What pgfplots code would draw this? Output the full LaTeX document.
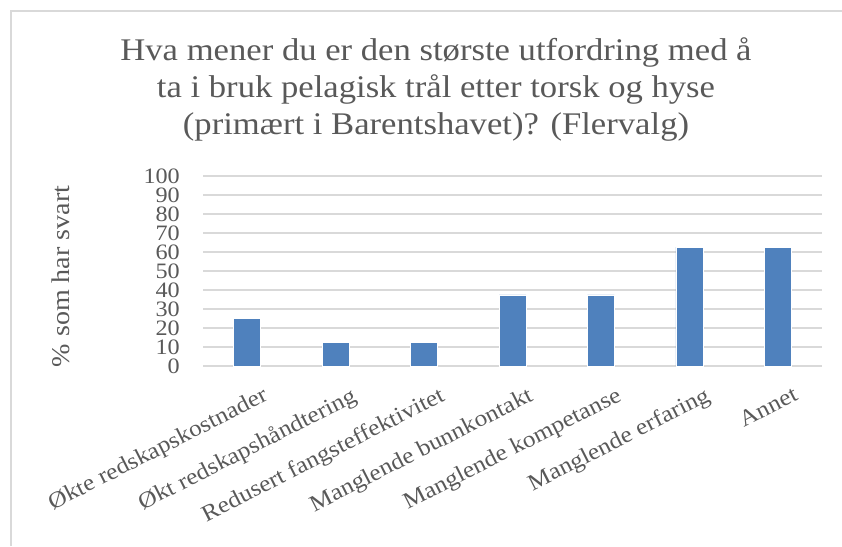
\documentclass[border=0pt]{standalone}
\usepackage{pgfplots}
\pgfplotsset{compat=1.18}
\usepackage{fontspec}
\setmainfont{Liberation Serif}[FakeStretch=1.1]
\definecolor{barblue}{HTML}{4F81BD}
\definecolor{txtgray}{HTML}{595959}
\definecolor{gridgray}{HTML}{D9D9D9}
\begin{document}
\begin{tikzpicture}
 \path[use as bounding box] (0,0) rectangle (842pt,546pt);
 \draw[gridgray,line width=1.5pt] (11pt,0pt)--(11pt,535pt)--(842pt,535pt);
 \begin{axis}[at={(203pt,180pt)},anchor=south west,scale only axis,width=619pt,height=190pt,
  ymin=0,ymax=100,ytick distance=10,xmin=-0.5,xmax=6.5,xtick=data,
  xticklabels={Økte redskapskostnader,Økt redskapshåndtering,Redusert fangsteffektivitet,Manglende bunnkontakt,Manglende kompetanse,Manglende erfaring,Annet},
  axis line style={draw=none},ymajorgrids,grid style={gridgray,line width=1.5pt},major tick length=0pt,
  ybar,bar width=27pt,
  /pgf/number format/assume math mode=true,
  yticklabel style={font=\fontsize{22}{22}\selectfont,text=txtgray,inner sep=0pt,anchor=east,xshift=-23pt},
  xticklabel style={font=\fontsize{23}{23}\selectfont,text=txtgray,rotate=27,anchor=north east,inner sep=0pt,xshift=4pt,yshift=-24pt}]
  \addplot[fill=barblue,draw=white,line width=0.5pt] coordinates {(0,25)(1,12.5)(2,12.5)(3,37.5)(4,37.5)(5,62.5)(6,62.5)};
 \end{axis}
 \node[rotate=90,text=txtgray,font=\fontsize{25.5}{25.5}\selectfont,inner sep=0pt] at (61pt,269.5pt) {\% som har svart};
 \begin{scope}[every node/.style={anchor=base,text=txtgray,font=\fontsize{31.5}{31.5}\selectfont}]
  \node at (436pt,485pt) {Hva mener du er den største utfordring med å};
  \node at (436pt,448pt) {ta i bruk pelagisk trål etter torsk og hyse};
  \node at (436pt,411pt) {(primært i Barentshavet)? (Flervalg)};
 \end{scope}
\end{tikzpicture}
\end{document}
